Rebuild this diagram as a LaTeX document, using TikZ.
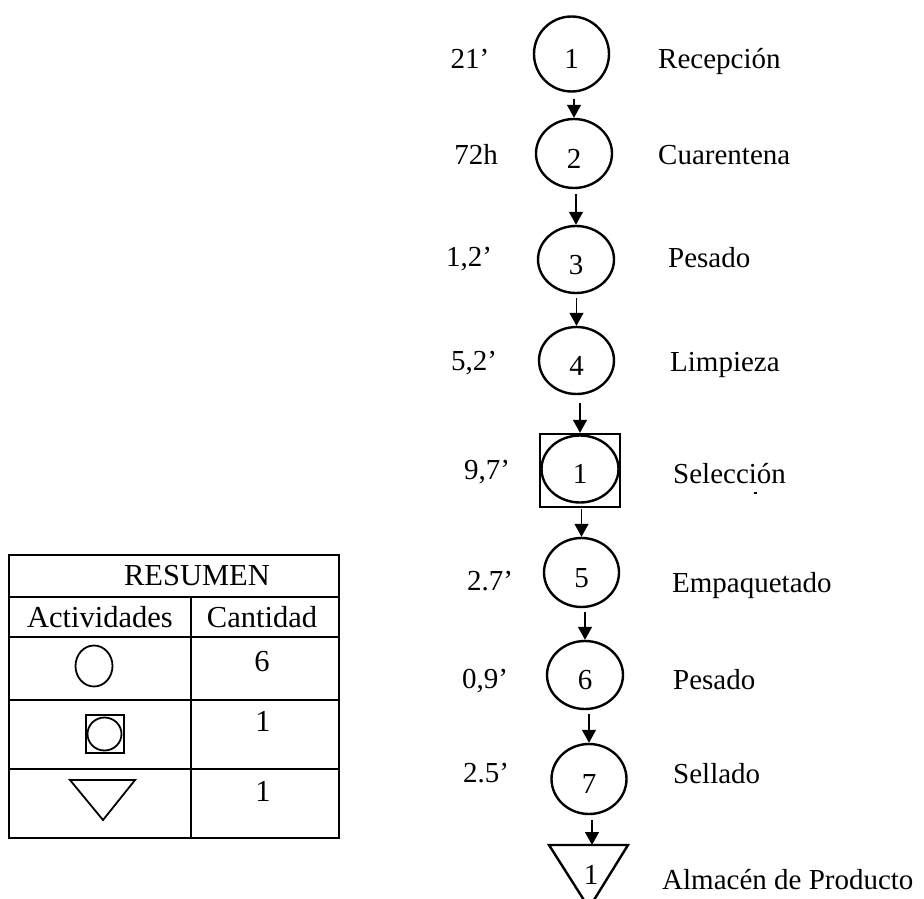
\documentclass[tikz,border=0pt]{standalone}
\usepackage{fontspec}
\setmainfont{Liberation Serif}
\usetikzlibrary{shapes.geometric,arrows.meta}
\tikzset{
  proc/.style={draw, ellipse, line width=2.4pt, inner sep=0pt, text height=29.6pt, text depth=0pt, font=\fontsize{29}{35}\selectfont},
  boxed/.style={draw, rectangle, line width=2.4pt, inner sep=0pt},
  arr/.style={line width=1.3pt, -{Triangle[length=13pt,width=14pt]}},
  lbl/.style={anchor=base, inner sep=0pt, font=\fontsize{29}{35}\selectfont},
  act/.style={anchor=base west, inner sep=0pt, font=\fontsize{29}{35}\selectfont},
  tbl/.style={anchor=base, inner sep=0pt, font=\fontsize{30.5}{36}\selectfont},
  grid/.style={line width=2pt},
  sym/.style={draw, line width=1.8pt, inner sep=0pt}
}
\begin{document}
\begin{tikzpicture}[x=1pt,y=-1pt]
\useasboundingbox (0,0) rectangle (924,899);
% process chain
\node[proc, minimum width=75pt, minimum height=75pt] (c1) at (571.5,54) {1};
\node[proc, minimum width=76pt, minimum height=69pt] (c2) at (574,153.5) {2};
\node[proc, minimum width=76pt, minimum height=67pt] (c3) at (576,259.5) {3};
\node[proc, minimum width=75pt, minimum height=67pt] (c4) at (576.5,360.5) {4};
\node[boxed, minimum width=80pt, minimum height=73pt] (bx) at (580,470.5) {};
\node[proc, minimum width=77pt, minimum height=67pt] (bc) at (580,469) {1};
\node[proc, minimum width=75pt, minimum height=69pt] (c5) at (581.5,572.5) {5};
\node[proc, minimum width=76pt, minimum height=68pt] (c6) at (585,675) {6};
\node[proc, minimum width=75pt, minimum height=70pt] (c7) at (589,779) {7};
\coordinate (tl) at (549,845);
\coordinate (tr) at (628,845);
\coordinate (ta) at (589,908);
\coordinate (tri) at (592,845);
\draw[line width=2.4pt, line join=miter] (tl) -- (tr) -- (ta) -- cycle;
\node[inner sep=0pt, anchor=base, font=\fontsize{29}{35}\selectfont] (tn) at (591,884) {1};
% arrows
\draw[arr, shorten <=6pt] (c1.south -| c2.north) -- (c2.north);
\draw[arr, shorten <=5pt] (c2.south -| c3.north) -- (c3.north);
\draw[arr, shorten <=4pt] (c3.south -| c4.north) -- (c4.north);
\draw[arr, shorten <=8pt] (c4.south -| bx.north) -- (bx.north);
\draw[arr, shorten <=1pt] (bx.south -| c5.north) -- (c5.north);
\draw[arr, shorten <=4pt] (c5.south -| c6.north) -- (c6.north);
\draw[arr, shorten <=4pt] (c6.south -| c7.north) -- (c7.north);
\draw[arr, shorten <=5pt] (c7.south -| tri) -- (tri);
% times
\node[lbl] (t1) at (470,69) {21’};
\node[lbl] (t2) at (476,164) {72h};
\node[lbl] (t3) at (469,266) {1,2’};
\node[lbl] (t4) at (474,370) {5,2’};
\node[lbl] (t5) at (487,479) {9,7’};
\node[lbl] (t6) at (490,590) {2.7’};
\node[lbl] (t7) at (485,688) {0,9’};
\node[lbl] (t8) at (486,782) {2.5’};
% activities
\node[act] (n1) at (658,69) {Recepción};
\node[act] (n2) at (658,164) {Cuarentena};
\node[act] (n3) at (668,267) {Pesado};
\node[act] (n4) at (670,371) {Limpieza};
\node[act] (n5) at (673,483) {Selección};
\node[act] (n6) at (672,592) {Empaquetado};
\node[act] (n7) at (673,689) {Pesado};
\node[act] (n8) at (673,783) {Sellado};
\node[act] (n9) at (662,889) {Almacén de Producto};
\fill (754,492) rectangle (757,494);
% summary table
\draw[grid] (9,555) rectangle (339,838);
\draw[grid] (9,597) -- (339,597);
\draw[grid] (9,637) -- (339,637);
\draw[grid] (9,700) -- (339,700);
\draw[grid] (9,769) -- (339,769);
\draw[grid] (191,597) -- (191,838);
\node[tbl] (h0) at (197,585) {RESUMEN};
\node[tbl] (h1) at (100,627) {Actividades};
\node[tbl] (h2) at (262,627) {Cantidad};
\node[sym, ellipse, minimum width=37pt, minimum height=41pt] (s1) at (94,666) {};
\node[sym, rectangle, minimum width=38pt, minimum height=38pt] (s2) at (105,734) {};
\node[sym, ellipse, minimum width=34pt, minimum height=33pt] (s2c) at (104.5,734) {};
\draw[line width=1.8pt, line join=miter] (70,780) -- (135,780) -- (103,820) -- cycle;
\node[tbl] (q1) at (262,671) {6};
\node[tbl] (q2) at (263,731) {1};
\node[tbl] (q3) at (263,801) {1};
\end{tikzpicture}
\end{document}
